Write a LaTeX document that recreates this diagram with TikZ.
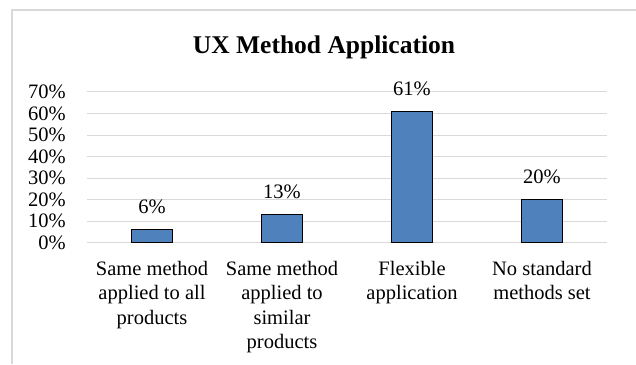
\documentclass[tikz,border=0pt]{standalone}
\usepackage{fontspec}
\setmainfont{Liberation Serif}
\definecolor{barblue}{HTML}{4F81BD}
\definecolor{gridgray}{HTML}{D9D9D9}
\definecolor{framegray}{HTML}{D9D9D9}
\begin{document}
\begin{tikzpicture}[x=1pt,y=-1pt,
  gridline/.style={draw=gridgray,line width=1pt},
  frameline/.style={draw=framegray,line width=1.5pt},
  barbox/.style={fill=barblue,draw=black,line width=1.3pt},
  lbl/.style={font=\fontsize{20.5}{24.5}\selectfont,inner sep=0pt},
  titlelbl/.style={font=\fontsize{25.5}{30}\selectfont\bfseries,inner sep=0pt},
  catlbl/.style={lbl,align=center,anchor=north}]
\useasboundingbox (0,0) rectangle (636,364);
\fill[white] (0,0) rectangle (636,364);
\draw[frameline] (12,364) -- (12,10) -- (636,10);
\node[titlelbl,anchor=base] (title) at (324,53.3) {UX Method Application};
% gridlines and axis labels
\foreach \i in {0,...,7}{
  \pgfmathsetmacro{\yy}{242.7-21.53*\i}
  \draw[gridline] (87,\yy) -- (607,\yy);
  \node[lbl,anchor=base east] (ax\i) at (66,\yy+6.8) {\the\numexpr\i*10\relax\%};
}
% bars
\foreach \n/\cx/\v in {1/152/6,2/282/13,3/412/61,4/542/20}{
  \pgfmathsetmacro{\top}{242.7-2.153*\v}
  \draw[barbox] (\cx-20.5,242.7) rectangle (\cx+20.5,\top);
  \node[lbl,anchor=base] (val\n) at (\cx,\top-16) {\v\%};
}
% category labels
\node[catlbl] (cat1) at (152,261) {Same method\\applied to all\\products};
\node[catlbl] (cat2) at (282,261) {Same method\\applied to\\similar\\products};
\node[catlbl] (cat3) at (412,261) {Flexible\\application};
\node[catlbl] (cat4) at (542,261) {No standard\\methods set};
\end{tikzpicture}
\end{document}
